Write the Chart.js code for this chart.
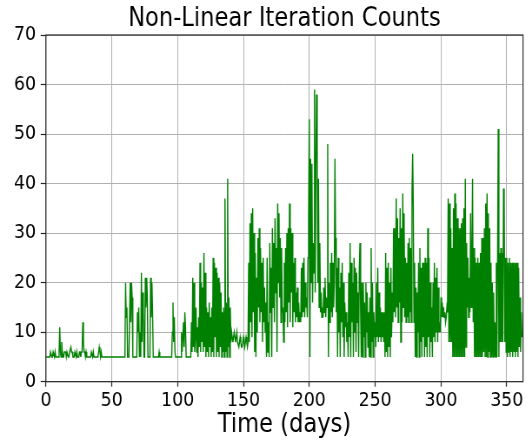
<!DOCTYPE html>
<html>
<head>
<meta charset="utf-8">
<script src="https://cdn.jsdelivr.net/npm/chart.js"></script>
<style>
  html, body { margin: 0; padding: 0; background: #fff; overflow: hidden; }
  #wrap { width: 612px; height: 445px; transform: scaleX(0.8693); transform-origin: 0 0; }
</style>
</head>
<body>
<div id="wrap"><canvas id="c" width="612" height="445"></canvas></div>
<script>
// Non-linear solver iteration counts, one saved value every half day.
const STEP_DAYS = 0.5;

const countsDay0 = [
  5,5,5,5,5,5,5,6,6,5, 5,6,6,5,6,5,5,5,5,5, 6,11,6,5,8,6,5,5,6,6,
  6,5,6,6,5,5,6,6,7,6, 6,5,5,5,6,6,5,6,5,5, 5,6,6,5,6,6,12,8,6,6
];
const countsDay30 = [
  5,6,5,5,5,5,5,5,5,6, 6,5,6,5,5,5,5,5,5,5, 6,7,6,5,6,5,5,5,5,5,
  5,5,5,5,5,5,5,5,5,5, 5,5,5,5,5,5,5,5,5,5, 5,5,5,5,5,5,5,5,5,5
];
const countsDay60 = [
  5,20,13,15,5,5,5,5,20,12, 20,17,5,5,5,5,5,5,5,14, 10,15,5,10,5,22,8,18,14,5,
  5,21,15,21,17,5,5,5,5,21, 13,20,14,5,5,5,5,5,5,5, 5,5,6,5,5,5,5,5,5,5
];
const countsDay90 = [
  5,5,5,5,5,5,5,5,5,5, 5,5,10,16,8,13,6,5,5,5, 5,5,5,5,5,5,10,6,9,12,
  7,14,11,5,5,5,5,5,5,5, 5,12,6,21,7,20,6,9,15,6, 11,5,13,7,24,6,20,8,19,6
];
const countsDay120 = [
  26,7,22,5,15,6,14,5,16,7, 13,5,15,6,25,5,24,9,23,5, 22,6,21,5,20,7,18,5,14,6,
  15,5,37,6,16,5,41,7,17,5, 15,8,10,9,8,9,10,9,8,9, 10,8,8,7,8,9,8,7,7,8
];
const countsDay150 = [
  9,8,7,8,9,8,7,8,24,8, 32,12,34,9,35,14,30,6,26,5, 21,10,29,15,31,12,27,14,24,8,
  25,12,19,10,16,5,25,6,12,5, 28,14,23,5,31,15,28,12,33,18, 27,6,36,20,34,17,29,12,27,14
];
const countsDay180 = [
  15,8,24,12,27,14,30,11,31,16, 36,12,31,18,30,11,24,14,25,12, 18,13,19,12,16,12,14,12,23,13,
  24,14,25,13,20,15,17,13,25,33, 53,5,45,20,44,16,28,22,59,18, 43,58,47,20,41,15,28,14,18,13
];
const countsDay210 = [
  15,13,19,14,21,13,17,15,48,5, 20,12,24,14,26,13,24,15,20,45, 29,14,23,5,25,10,19,5,22,12,
  24,9,20,5,16,11,14,8,12,5, 22,9,28,5,24,12,20,5,25,10, 23,6,22,12,18,5,23,28,14,5
];
const countsDay240 = [
  20,5,20,9,16,5,20,10,18,7, 14,5,17,5,27,8,20,5,14,9, 12,7,20,9,23,8,18,9,15,8,
  14,9,14,8,14,5,26,6,23,5, 24,7,20,5,23,9,18,12,31,14, 31,13,37,15,33,12,29,16,35,8
];
const countsDay270 = [
  31,12,38,15,34,13,25,12,24,13, 28,12,29,14,27,12,38,46,35,12, 24,5,19,5,18,10,24,5,27,8,
  23,5,24,9,24,5,25,7,24,5, 31,9,25,5,20,8,15,5,20,9, 24,8,21,10,23,8,19,10,12,10
];
const countsDay300 = [
  17,13,16,13,15,13,14,12,13,15, 14,37,8,36,8,31,8,27,5,35, 5,38,5,36,5,33,5,31,5,31,
  5,32,5,33,5,35,5,41,7,28, 15,25,13,21,14,34,15,25,41,12, 27,5,25,5,24,5,25,5,24,5
];
const countsDay330 = [
  26,5,29,5,29,6,31,5,36,5, 38,5,34,6,31,5,24,5,20,5, 18,5,12,5,24,5,25,51,5,26,
  8,27,8,26,8,39,37,8,25,6, 25,5,24,6,25,5,24,6,24,5, 24,6,24,5,24,6,24,5,23,7
];
const countsDay360 = [17,6,14,9,10];

const xTickValues = [0, 50, 100, 150, 200, 250, 300, 350];
const yTickValues = [0, 10, 20, 30, 40, 50, 60, 70];

const iterationCounts = [].concat(
  countsDay0, countsDay30, countsDay60, countsDay90, countsDay120, countsDay150,
  countsDay180, countsDay210, countsDay240, countsDay270, countsDay300, countsDay330,
  countsDay360
);
const series = iterationCounts.map((v, i) => ({ x: i * STEP_DAYS, y: v }));

const FONT = 'DejaVu Sans';
const INK = '#000000';
const SPINE = '#262626';
const GRID = '#b0b0b0';

// Axes box drawn on all four sides
const framePlugin = {
  id: 'frame',
  afterDatasetsDraw(chart) {
    const { ctx, chartArea: { left, top, right, bottom } } = chart;
    ctx.save();
    ctx.strokeStyle = SPINE;
    ctx.lineWidth = 1.2;
    ctx.strokeRect(left, top, right - left, bottom - top);
    ctx.restore();
  }
};

new Chart(document.getElementById('c'), {
  type: 'line',
  data: {
    datasets: [{
      data: series,
      borderColor: '#008000',
      borderWidth: 1.4,
      borderJoinStyle: 'miter',
      pointRadius: 0,
      tension: 0,
      fill: false
    }]
  },
  options: {
    responsive: false,
    animation: false,
    devicePixelRatio: 1,
    layout: { padding: { left: 0, right: 10.4, top: 0, bottom: 0 } },
    plugins: {
      legend: { display: false },
      tooltip: { enabled: false },
      title: {
        display: true,
        text: 'Non-Linear Iteration Counts',
        fullSize: false,
        color: INK,
        font: { family: FONT, size: 26, weight: 'normal', lineHeight: 1.2 },
        padding: { top: 3.7, bottom: 0.1 }
      }
    },
    scales: {
      x: {
        type: 'linear',
        min: 0,
        max: 362.3,
        afterBuildTicks: s => { s.ticks = xTickValues.map(v => ({ value: v })); },
        afterFit: s => { s.height = 63.3; },
        border: { display: false },
        grid: { color: GRID, lineWidth: 1, drawTicks: true, tickLength: 5, tickColor: SPINE, tickWidth: 1.2 },
        ticks: { color: INK, font: { family: FONT, size: 20 }, padding: 2, maxRotation: 0 },
        title: {
          display: true,
          text: 'Time (days)',
          color: INK,
          font: { family: FONT, size: 26, lineHeight: 1.2 },
          padding: { top: 0, bottom: 4.4 }
        }
      },
      y: {
        min: 0,
        max: 70,
        afterBuildTicks: s => { s.ticks = yTickValues.map(v => ({ value: v })); },
        afterFit: s => { s.width = 52.8; },
        border: { display: false },
        grid: { color: GRID, lineWidth: 1, drawTicks: true, tickLength: 6, tickColor: SPINE, tickWidth: 1.2 },
        ticks: { color: INK, font: { family: FONT, size: 20 }, padding: 5.4 }
      }
    }
  },
  plugins: [framePlugin]
});
</script>
</body>
</html>
